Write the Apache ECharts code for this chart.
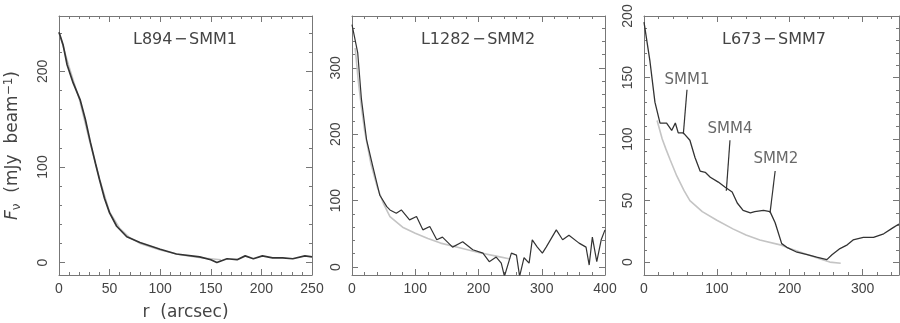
<!DOCTYPE html>
<html>
<head>
<meta charset="utf-8">
<title>Radial flux profiles</title>
<script src="https://cdn.jsdelivr.net/npm/echarts@6/dist/echarts.min.js"></script>
<style>
  html, body { margin: 0; padding: 0; background: #fff; }
  #chart { width: 900px; height: 323px; }
</style>
</head>
<body>
<div id="chart"></div>
<script>
// ---- L894-SMM1 ----
const l894R    = [0, 4, 8, 14, 21, 26, 31, 36, 40, 45, 50, 57, 67, 80, 100, 116, 139, 150, 156, 166, 176, 184, 192, 201, 211, 221, 231, 243, 250]
const l894Flux = [241, 228, 207, 188, 170, 150, 126, 104, 87, 67, 52, 38, 27, 21, 14, 9, 6, 3, 0, 4, 3, 7, 4, 7, 5, 5, 4, 7, 6]
const l894ModelR    = [0, 10, 20, 30, 40, 50, 60, 70, 80, 100, 120, 140, 160]
const l894ModelFlux = [241, 205, 171, 128, 88, 53, 36, 26, 20, 13, 8, 5, 3]

// ---- L1282-SMM2 ----
const l1282R    = [0, 2, 9, 15, 23, 33, 44, 55, 60, 70, 78, 91, 102, 112, 123, 134, 143, 159, 175, 191, 207, 217, 228, 236, 241, 252, 260, 265, 272, 280, 285, 293, 301, 307, 323, 333, 343, 359, 370, 375, 380, 387, 394, 400]
const l1282Flux = [365, 362, 323, 252, 192, 151, 108, 91, 86, 81, 86, 71, 76, 56, 61, 41, 45, 30, 38, 26, 21, 8, 15, 6, -14, 21, 18, -14, 14, 6, 41, 30, 21, 30, 56, 41, 48, 36, 30, 3, 45, 8, 41, 56]
const l1282ModelR    = [5, 10, 15, 20, 30, 40, 50, 60, 80, 100, 120, 140, 170, 200, 230, 250]
const l1282ModelFlux = [330, 280, 240, 205, 155, 120, 95, 76, 60, 51, 43, 36, 29, 22, 16, 12]

// ---- L673-SMM7 ----
const l673R    = [0, 8, 15, 22, 31, 38, 43, 47, 54, 63, 70, 77, 84, 91, 102, 111, 121, 128, 136, 146, 152, 164, 173, 180, 189, 196, 210, 224, 237, 251, 258, 269, 279, 287, 301, 315, 329, 342, 350]
const l673Flux = [195, 164, 130, 113, 113, 107, 113, 105, 105, 99, 85, 74, 73, 69, 65, 61, 57, 48, 42, 40, 41, 42, 41, 32, 15, 12, 8, 6, 4, 2, 6, 11, 14, 18, 20, 20, 23, 28, 31]
const l673ModelR    = [18, 25, 30, 36, 45, 55, 63, 80, 100, 122, 140, 159, 187, 200, 220, 240, 255, 270]
const l673ModelFlux = [115, 100, 92, 83, 70, 58, 50, 41, 34, 27, 22, 18, 14, 11, 7, 3, 0, -1]

// source labels and pointer lines in the L673 panel
const smmNames  = ['SMM1', 'SMM4', 'SMM2']
const smmLabelR = [59, 118, 181]
const smmLabelF = [148, 108, 84]
const smmTopR   = [59, 118, 180]
const smmTopF   = [140, 99, 74]
const smmEndR   = [54, 113, 173]
const smmEndF   = [104, 58, 40]

const panelTitles = ['L894\u200a\u2212\u200aSMM1', 'L1282\u200a\u2212\u200aSMM2', 'L673\u200a\u2212\u200aSMM7']

const axisColor = '#777'
const textColor = '#444'
const lineColor = '#333'
const modelColor = '#c4c4c4'
const labelFont = 'Liberation Sans'
const nameFont = 'DejaVu Sans'

const zip = (xs, ys) => xs.map((x, i) => [x, ys[i]])

function ticks(from, to, step) {
  const out = []
  for (let v = from; v <= to + 1e-9; v += step) out.push(v)
  return out
}

// a grid holds at most two axes per direction, so each panel uses two
// stacked grids: one for the long (major) ticks, one for the short ones
function makeAxes(gi, min, max, major, minor, horizontal, extra) {
  const base = { type: 'value', min, max, splitLine: { show: false } }
  const sides = horizontal ? ['bottom', 'top'] : ['left', 'right']
  const tickStyle = { color: axisColor, width: 1 }
  const label = {
    customValues: major,
    color: textColor,
    fontFamily: labelFont,
    fontSize: 14,
    margin: horizontal ? 7 : 9,
    rotate: horizontal ? 0 : 90
  }
  return [
    Object.assign({}, base, {
      gridIndex: gi * 2,
      position: sides[0],
      axisLine: { show: true, onZero: false, lineStyle: { color: axisColor } },
      axisTick: { inside: true, length: 6, customValues: major, lineStyle: tickStyle },
      axisLabel: label
    }, extra || {}),
    Object.assign({}, base, {
      gridIndex: gi * 2,
      position: sides[1],
      axisLine: { show: true, onZero: false, lineStyle: { color: axisColor } },
      axisTick: { inside: true, length: 6, customValues: major, lineStyle: tickStyle },
      axisLabel: { show: false }
    }),
    Object.assign({}, base, {
      gridIndex: gi * 2 + 1,
      position: sides[0],
      axisLine: { show: false, onZero: false },
      axisTick: { inside: true, length: 3, customValues: minor, lineStyle: tickStyle },
      axisLabel: { show: false }
    }),
    Object.assign({}, base, {
      gridIndex: gi * 2 + 1,
      position: sides[1],
      axisLine: { show: false, onZero: false },
      axisTick: { inside: true, length: 3, customValues: minor, lineStyle: tickStyle },
      axisLabel: { show: false }
    })
  ]
}

const panelRects = [
  { left: 59, right: 588, top: 16, bottom: 48 },
  { left: 352, right: 295, top: 16, bottom: 48 },
  { left: 644, right: 1, top: 16, bottom: 48 }
]
const grids = []
panelRects.forEach(r => {
  grids.push(Object.assign({ outerBoundsMode: 'none' }, r), Object.assign({ outerBoundsMode: 'none' }, r))
})

const xAxis = [].concat(
  makeAxes(0, 0, 250, ticks(0, 250, 50), ticks(0, 250, 10), true, {
    name: 'r  (arcsec)',
    nameLocation: 'middle',
    nameGap: 29,
    nameTextStyle: { color: textColor, fontFamily: nameFont, fontSize: 17 }
  }),
  makeAxes(1, 0, 400, ticks(0, 400, 100), ticks(0, 400, 20), true),
  makeAxes(2, 0, 350, ticks(0, 300, 100), ticks(0, 350, 20), true)
)

const yAxis = [].concat(
  makeAxes(0, -13, 258, ticks(0, 200, 100), ticks(0, 240, 20), false, {
    name: '{i|F}{sub|\u03bd}  (mJy  beam{sup|\u22121})',
    nameLocation: 'middle',
    nameRotate: 90,
    nameGap: 36,
    nameTextStyle: {
      color: textColor, fontFamily: nameFont, fontSize: 17,
      rich: {
        i: { fontStyle: 'italic', fontSize: 17, color: textColor, fontFamily: nameFont },
        sub: { fontSize: 12, verticalAlign: 'bottom', color: textColor, fontFamily: nameFont, padding: [8, 0, 0, 0] },
        sup: { fontSize: 12, verticalAlign: 'top', color: textColor, fontFamily: nameFont, padding: [0, 0, 8, 0] }
      }
    }
  }),
  makeAxes(1, -12, 378, ticks(0, 300, 100), ticks(0, 360, 20), false),
  makeAxes(2, -10.5, 200, ticks(0, 200, 50), ticks(0, 200, 10), false)
)

function profile(panel, xs, ys, color, width) {
  return {
    type: 'line',
    xAxisIndex: panel * 4,
    yAxisIndex: panel * 4,
    data: zip(xs, ys),
    showSymbol: false,
    symbol: 'none',
    silent: true,
    lineStyle: { color, width },
    z: color === lineColor ? 3 : 2
  }
}

const series = [
  profile(0, l894ModelR, l894ModelFlux, modelColor, 1.4),
  profile(0, l894R, l894Flux, lineColor, 1.7),
  profile(1, l1282ModelR, l1282ModelFlux, modelColor, 1.6),
  profile(1, l1282R, l1282Flux, lineColor, 1.2),
  profile(2, l673ModelR, l673ModelFlux, modelColor, 1.6),
  profile(2, l673R, l673Flux, lineColor, 1.3)
]

smmNames.forEach((n, i) => {
  series.push(profile(2, [smmTopR[i], smmEndR[i]], [smmTopF[i], smmEndF[i]], lineColor, 1.2))
})

series.push({
  type: 'scatter',
  xAxisIndex: 8,
  yAxisIndex: 8,
  symbolSize: 1,
  silent: true,
  itemStyle: { color: 'rgba(0,0,0,0)' },
  data: smmNames.map((n, i) => ({ value: [smmLabelR[i], smmLabelF[i]], name: n })),
  label: {
    show: true,
    position: 'inside',
    formatter: p => p.name,
    color: textColor,
    fontFamily: nameFont,
    fontSize: 15
  }
})

const chart = echarts.init(document.getElementById('chart'), null, { renderer: 'canvas' })

chart.setOption({
  animation: false,
  backgroundColor: '#fff',
  title: panelTitles.map((t, i) => ({
    text: t,
    left: [180, 473, 769][i],
    top: 27,
    textAlign: 'center',
    textStyle: { color: textColor, fontFamily: nameFont, fontSize: 16, fontWeight: 'normal' }
  })),
  grid: grids,
  xAxis,
  yAxis,
  series
})
</script>
</body>
</html>
